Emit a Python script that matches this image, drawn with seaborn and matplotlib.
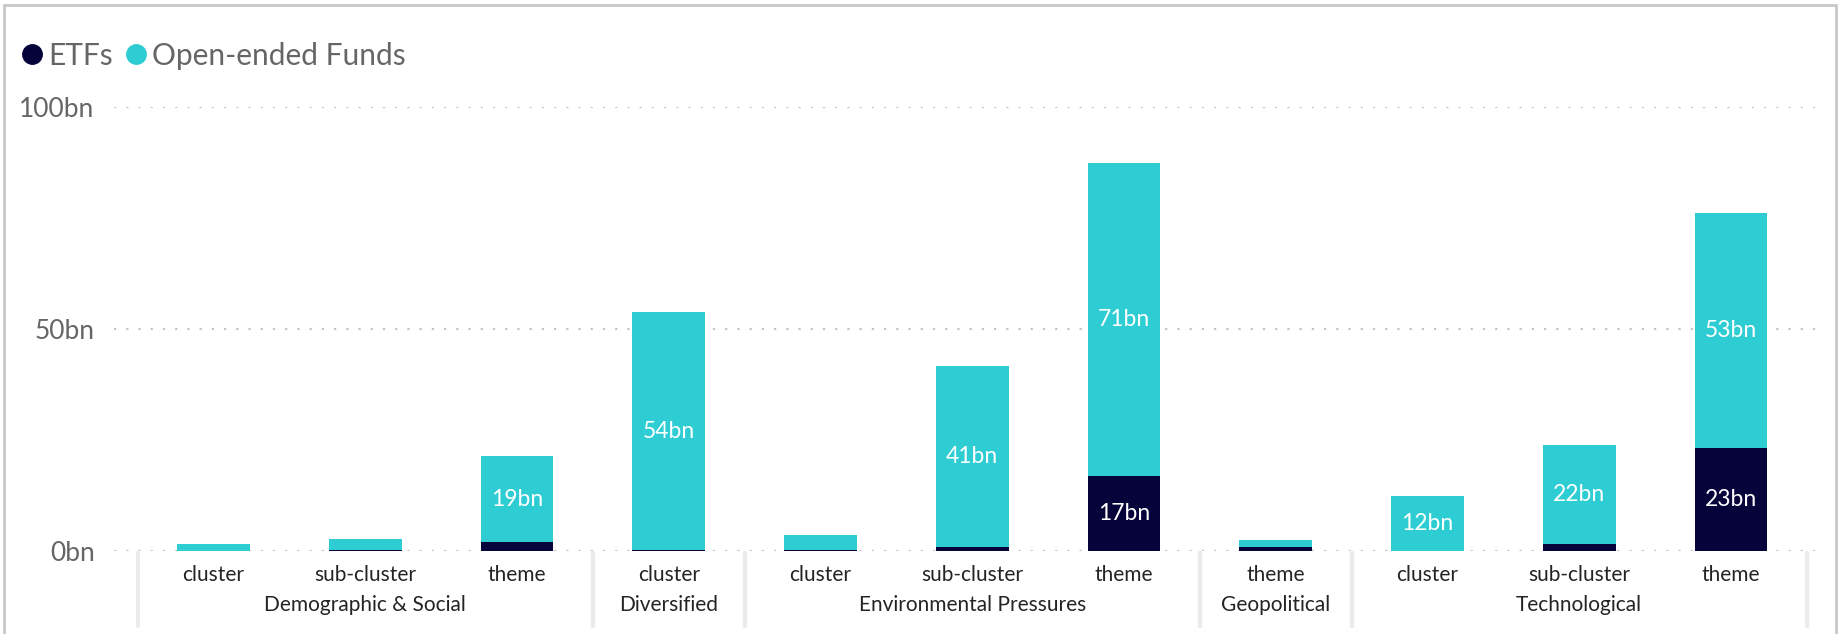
import matplotlib
matplotlib.use("Agg")
import matplotlib.pyplot as plt
from matplotlib.lines import Line2D
from matplotlib.patches import Rectangle
import matplotlib.transforms as mtransforms
import seaborn as sns
import pandas as pd

# Assets under management (bn) by theme group and classification level
groups = ["Demographic & Social", "Demographic & Social", "Demographic & Social",
          "Diversified",
          "Environmental Pressures", "Environmental Pressures", "Environmental Pressures",
          "Geopolitical",
          "Technological", "Technological", "Technological"]
levels = ["cluster", "sub-cluster", "theme",
          "cluster",
          "cluster", "sub-cluster", "theme",
          "theme",
          "cluster", "sub-cluster", "theme"]
etfs = [0.05, 0.2, 2.1, 0.2, 0.2, 0.8, 16.8, 1.0, 0.05, 1.5, 23.3]
open_ended = [1.5, 2.6, 19.2, 53.6, 3.5, 40.8, 70.6, 1.4, 12.4, 22.3, 52.8]
y_ticks = [0, 50, 100]
y_tick_labels = ["0bn", "50bn", "100bn"]

ETF_COLOR = "#05033a"
OEF_COLOR = "#2ecdd3"
TEXT_GREY = "#666666"

sns.set_theme(style="white")
plt.rcParams["font.family"] = ["Lato", "DejaVu Sans"]

df = pd.DataFrame({"group": groups, "level": levels, "etf": etfs, "oef": open_ended})
df["key"] = [f"{g}|{l}" for g, l in zip(df["group"], df["level"])]
df["total"] = df["etf"] + df["oef"]
order = list(df["key"])

fig = plt.figure(figsize=(18.46, 6.34), dpi=100)
ax = fig.add_axes([0.0618, 0.1309, 0.9236, 0.7003])

# Stacked bars: full total in teal, ETF share over it from the baseline
sns.barplot(data=df, x="key", y="total", order=order, color=OEF_COLOR,
            width=0.48, saturation=1, ax=ax, errorbar=None, linewidth=0)
sns.barplot(data=df, x="key", y="etf", order=order, color=ETF_COLOR,
            width=0.48, saturation=1, ax=ax, errorbar=None, linewidth=0)

ax.set_xlim(-0.655, 10.58)
ax.set_ylim(0, 100)
ax.set_yticks(y_ticks)
ax.set_yticklabels(y_tick_labels, fontsize=19, color=TEXT_GREY)
ax.tick_params(axis="y", length=0, pad=14)
ax.set_xticks(range(len(order)))
ax.set_xticklabels([])
ax.tick_params(axis="x", length=0)
ax.set_xlabel("")
ax.set_ylabel("")
for s in ax.spines.values():
    s.set_visible(False)
for yv in y_ticks:
    ax.axhline(yv, color="#c4c4c4", linewidth=1.6, linestyle=(0, (1, 4.5)), zorder=0.5)

# Value labels inside the large segments
for i, row in df.iterrows():
    if row["etf"] >= 10:
        ax.text(i, row["etf"] / 2, f"{row['etf']:.0f}bn", ha="center", va="center",
                color="white", fontsize=16.5)
    if row["oef"] >= 10:
        ax.text(i, row["etf"] + row["oef"] / 2, f"{row['oef']:.0f}bn", ha="center",
                va="center", color="white", fontsize=16.5)

# Two-level category axis
trans = mtransforms.blended_transform_factory(ax.transData, ax.transAxes)
for i, lv in enumerate(levels):
    ax.text(i, -0.055, lv, transform=trans, ha="center", va="center",
            fontsize=15, color="#252423")
spans = []
start = 0
for i in range(1, len(groups) + 1):
    if i == len(groups) or groups[i] != groups[start]:
        spans.append((groups[start], start, i - 1))
        start = i
for name, a, b in spans:
    ax.text((a + b) / 2, -0.122, name, transform=trans, ha="center", va="center",
            fontsize=15, color="#252423")
    for xb in (a - 0.5, b + 0.5):
        ax.add_line(Line2D([xb, xb], [-0.005, -0.17], transform=trans, color="#ebebeb",
                           linewidth=3, clip_on=False, zorder=0))

# Legend
handles = [Line2D([], [], marker="o", linestyle="", markersize=14, color=ETF_COLOR),
           Line2D([], [], marker="o", linestyle="", markersize=14, color=OEF_COLOR)]
leg = fig.legend(handles, ["ETFs", "Open-ended Funds"], loc="center left",
                 bbox_to_anchor=(0.0105, 0.912), ncol=2, frameon=False, fontsize=21.5,
                 borderpad=0, borderaxespad=0,
                 handletextpad=0.12, columnspacing=0.35, handlelength=0.85)
for t in leg.get_texts():
    t.set_color(TEXT_GREY)

# Visual border
fig.add_artist(Rectangle((0.0022, -0.01), 0.9925, 1.002, transform=fig.transFigure,
                         fill=False, edgecolor="#c8c8c8", linewidth=2))

fig.savefig("out.png", dpi=100)
